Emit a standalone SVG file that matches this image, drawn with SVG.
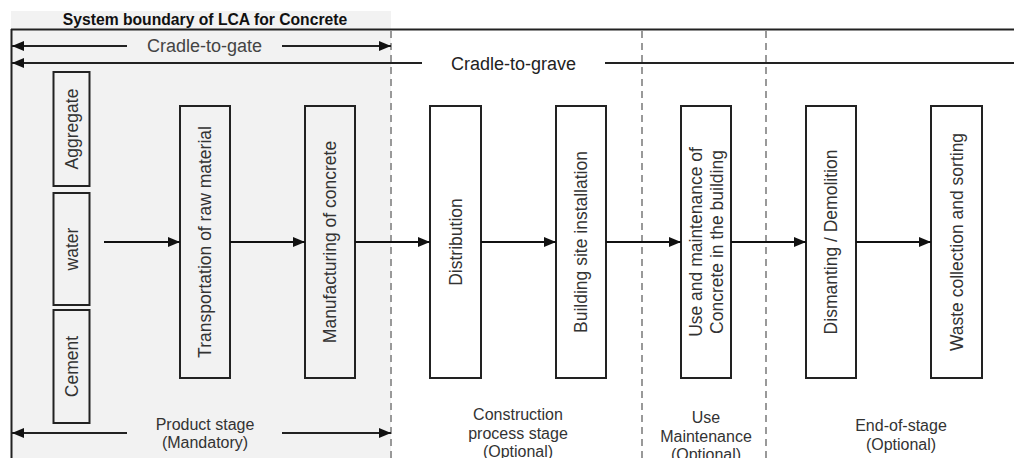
<svg xmlns="http://www.w3.org/2000/svg" width="1014" height="458" viewBox="0 0 1014 458">
<style>
.box{fill:none;stroke:#222;stroke-width:2}
.lbl{font-family:"Liberation Sans",Arial,sans-serif;font-size:17.5px;fill:#333;text-anchor:middle}
.rng{font-family:"Liberation Sans",Arial,sans-serif;font-size:18px;text-anchor:middle}
.stg{font-family:"Liberation Sans",Arial,sans-serif;font-size:16px;fill:#333;text-anchor:middle}
.ln{stroke:#222;stroke-width:2;fill:none}
.arr{stroke:#111;stroke-width:2;fill:none;marker-end:url(#ah)}
.dash{stroke:#999;stroke-width:2;stroke-dasharray:7,5;fill:none}
</style>
<defs>
<marker id="ah" markerUnits="userSpaceOnUse" markerWidth="13" markerHeight="11" refX="12" refY="5" orient="auto-start-reverse">
<path d="M0,0 L12,5 L0,10 z" fill="#111"/>
</marker>
</defs>
<rect x="0" y="0" width="1014" height="458" fill="#fff"/>
<g id="system-boundary">
<rect x="11" y="11" width="380" height="447" fill="#f2f2f2"/>
<text x="205" y="25" font-family="'Liberation Sans',Arial,sans-serif" font-size="15.7" font-weight="bold" text-anchor="middle" fill="#111">System boundary of LCA for Concrete</text>
<line class="ln" x1="11" y1="29.5" x2="1014" y2="29.5"/>
<line class="ln" x1="11.5" y1="29" x2="11.5" y2="458"/>
</g>
<g id="stage-dividers">
<line class="dash" x1="391" y1="31" x2="391" y2="458"/>
<line class="dash" x1="642" y1="31" x2="642" y2="458"/>
<line class="dash" x1="766" y1="31" x2="766" y2="458"/>
</g>
<g id="range-cradle-to-gate">
<line class="ln" x1="12" y1="46" x2="127" y2="46" style="marker-start:url(#ah)"/>
<line class="ln" x1="282" y1="46" x2="391" y2="46" style="marker-end:url(#ah)"/>
<text class="rng" x="204.5" y="52" fill="#444">Cradle-to-gate</text>
</g>
<g id="range-cradle-to-grave">
<line class="ln" x1="12" y1="63" x2="422" y2="63" style="marker-start:url(#ah)"/>
<line class="ln" x1="605" y1="63" x2="1014" y2="63"/>
<text class="rng" x="513.5" y="69.5" fill="#222">Cradle-to-grave</text>
</g>
<g id="range-product-stage">
<line class="ln" x1="12" y1="433" x2="127" y2="433" style="marker-start:url(#ah)"/>
<line class="ln" x1="282" y1="433" x2="391" y2="433" style="marker-end:url(#ah)"/>
<text class="stg" x="205" y="430">Product stage</text>
<text class="stg" x="205" y="448">(Mandatory)</text>
</g>
<g id="node-aggregate">
<rect class="box" x="53.5" y="72" width="36" height="114"/>
<text class="lbl" transform="translate(77.5,129) rotate(-90)">Aggregate</text>
</g>
<g id="node-water">
<rect class="box" x="53.5" y="193" width="36" height="112"/>
<text class="lbl" transform="translate(77.5,249) rotate(-90)">water</text>
</g>
<g id="node-cement">
<rect class="box" x="53.5" y="310" width="36" height="113"/>
<text class="lbl" transform="translate(77.5,366.5) rotate(-90)">Cement</text>
</g>
<g id="node-transportation">
<rect class="box" x="180" y="106" width="50" height="272"/>
<text class="lbl" transform="translate(211,242) rotate(-90)">Transportation of raw material</text>
</g>
<g id="node-manufacturing">
<rect class="box" x="305" y="106" width="50" height="272"/>
<text class="lbl" transform="translate(336,242) rotate(-90)">Manufacturing of concrete</text>
</g>
<g id="node-distribution">
<rect class="box" x="430" y="106" width="51" height="272"/>
<text class="lbl" transform="translate(461.5,242) rotate(-90)">Distribution</text>
</g>
<g id="node-building-site">
<rect class="box" x="556" y="106" width="50" height="272"/>
<text class="lbl" transform="translate(587,242) rotate(-90)">Building site installation</text>
</g>
<g id="node-use">
<rect class="box" x="681" y="106" width="50" height="272"/>
<text class="lbl" transform="translate(702,242) rotate(-90)">Use and maintenance of</text>
<text class="lbl" transform="translate(722.5,242) rotate(-90)">Concrete in the building</text>
</g>
<g id="node-dismantling">
<rect class="box" x="806" y="106" width="50" height="272"/>
<text class="lbl" transform="translate(837,242) rotate(-90)">Dismanting / Demolition</text>
</g>
<g id="node-waste">
<rect class="box" x="931" y="106" width="51" height="272"/>
<text class="lbl" transform="translate(962.5,242) rotate(-90)">Waste collection and sorting</text>
</g>
<g id="stage-labels">
<text class="stg" x="518" y="420">Construction</text>
<text class="stg" x="518" y="439">process stage</text>
<text class="stg" x="518" y="456.5">(Optional)</text>
<text class="stg" x="706" y="423">Use</text>
<text class="stg" x="706" y="441.5">Maintenance</text>
<text class="stg" x="706" y="459.5">(Optional)</text>
<text class="stg" x="901" y="431">End-of-stage</text>
<text class="stg" x="901" y="449.5">(Optional)</text>
</g>
<g id="connectors">
<line class="arr" x1="104" y1="242" x2="180" y2="242"/>
<line class="arr" x1="230" y1="242" x2="305" y2="242"/>
<line class="arr" x1="355" y1="242" x2="430" y2="242"/>
<line class="arr" x1="481" y1="242" x2="556" y2="242"/>
<line class="arr" x1="606" y1="242" x2="681" y2="242"/>
<line class="arr" x1="731" y1="242" x2="806" y2="242"/>
<line class="arr" x1="856" y1="242" x2="931" y2="242"/>
</g>
</svg>
